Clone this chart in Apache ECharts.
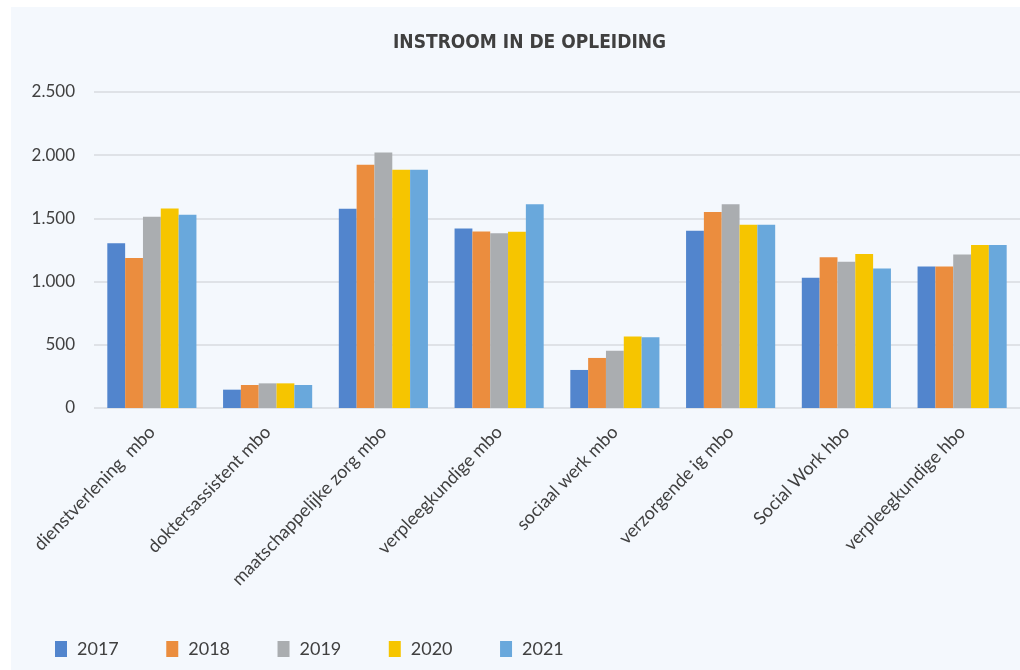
<!DOCTYPE html>
<html>
<head>
<meta charset="utf-8">
<script src="https://cdn.jsdelivr.net/npm/echarts@6/dist/echarts.min.js"></script>
<style>
html,body{margin:0;padding:0;background:#ffffff;}
#chart{width:1020px;height:670px;}
</style>
</head>
<body>
<div id="chart"></div>
<script>
const categories = ['dienstverlening  mbo','doktersassistent mbo','maatschappelijke zorg mbo','verpleegkundige mbo','sociaal werk mbo','verzorgende ig mbo','Social Work hbo','verpleegkundige hbo'];
const years = ['2017','2018','2019','2020','2021'];
const v2017 = [1303, 145, 1576, 1421, 301, 1403, 1030, 1120];
const v2018 = [1187, 182, 1924, 1397, 396, 1551, 1192, 1120];
const v2019 = [1513, 195, 2021, 1382, 452, 1612, 1157, 1215];
const v2020 = [1579, 195, 1884, 1395, 565, 1450, 1218, 1289];
const v2021 = [1529, 182, 1884, 1612, 560, 1450, 1104, 1289];
const yTicks = ['0','500','1.000','1.500','2.000','2.500'];

const seriesValues = [v2017, v2018, v2019, v2020, v2021];
const colors = ['#5285cd','#eb8d3e','#aaadb0','#f6c500','#69a8dc'];

const chart = echarts.init(document.getElementById('chart'));
chart.setOption({
  backgroundColor: '#ffffff',
  animation: false,
  color: colors,
  graphic: [{
    type: 'rect', z: -10, silent: true,
    shape: {x: 11, y: 7, width: 1009, height: 663},
    style: {fill: '#f4f8fd'}
  }],
  title: {
    text: 'INSTROOM IN DE OPLEIDING',
    left: 388, top: 29,
    textStyle: {fontFamily: 'DejaVu Sans Condensed', fontWeight: 'bold', fontSize: 19, color: '#404040'}
  },
  legend: {
    data: years,
    left: 50, top: 635,
    itemWidth: 12, itemHeight: 16, itemGap: 47.5,
    icon: 'rect',
    textStyle: {fontFamily: 'Lato', fontSize: 18, color: '#404040', padding: [0,0,0,5]}
  },
  grid: {left: 94, top: 92, width: 930, height: 316, containLabel: false},
  xAxis: {
    type: 'category',
    data: categories,
    axisLine: {show: false},
    axisTick: {show: false},
    axisLabel: {rotate: 46, interval: 0, margin: 21, fontFamily: 'Lato', fontSize: 18, color: '#404040'}
  },
  yAxis: {
    type: 'value',
    min: 0, max: 2500, interval: 500,
    axisLine: {show: false},
    axisTick: {show: false},
    splitLine: {lineStyle: {color: '#d9dbdf', width: 1.5}},
    axisLabel: {
      margin: 19, fontFamily: 'Lato', fontSize: 17, color: '#404040',
      formatter: function (v) { return yTicks[Math.round(v / 500)]; }
    }
  },
  series: years.map((y, i) => ({
    name: y,
    type: 'bar',
    data: seriesValues[i],
    barGap: '0%',
    barCategoryGap: '23%',
    itemStyle: {color: colors[i]}
  }))
});
</script>
</body>
</html>
